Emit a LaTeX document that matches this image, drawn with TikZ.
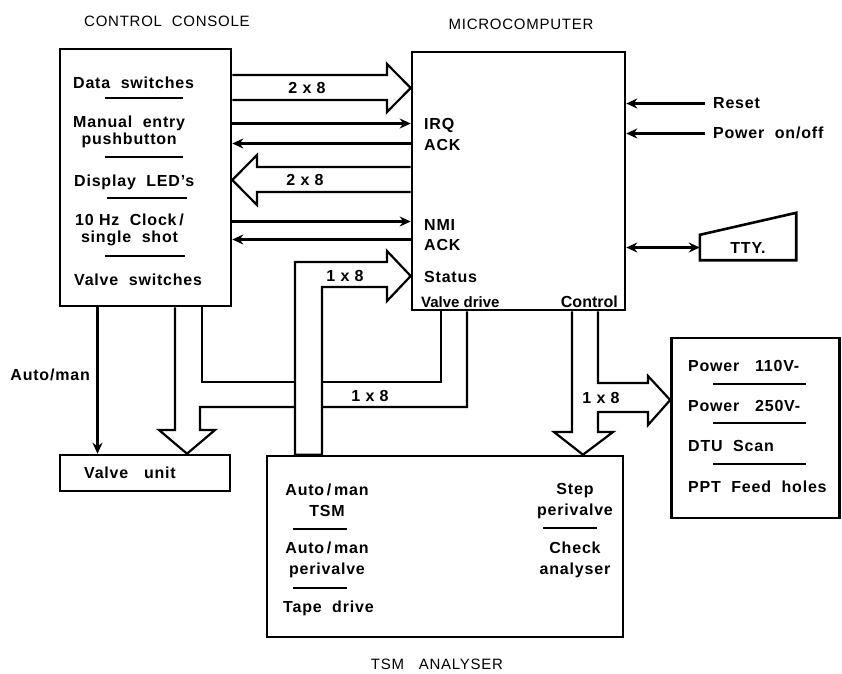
\documentclass[tikz,border=0pt]{standalone}
\usepackage{fontspec}
\setmainfont{Liberation Sans}[LetterSpace=5]
\newfontfamily\tightfont{Liberation Sans}
\usetikzlibrary{arrows.meta, positioning, calc}

\begin{document}
\begin{tikzpicture}[
  x=1pt, y=-1pt,
  font=\fontsize{16}{17}\selectfont\bfseries,
  box/.style={rectangle, draw=black, line width=2.6pt, inner sep=0pt},
  txt/.style={inner sep=0pt, align=center},
  item/.style={txt, anchor=west},
  title/.style={inner sep=0pt, font=\fontsize{15}{16}\selectfont},
  sep/.style={line width=2pt},
  wire/.style={line width=2.5pt},
  arr/.style={wire, -{Stealth[length=11pt, width=10pt]}},
  darr/.style={wire, {Stealth[length=11pt, width=10pt]}-{Stealth[length=11pt, width=10pt]}},
  bus/.style={line width=2.2pt, line join=miter},
]
\useasboundingbox (0,0) rectangle (842,673);
% blocks
\node (console) [box, minimum width=171pt, minimum height=257pt] at (145.5,177.5) {};
\node (micro)   [box, minimum width=213pt, minimum height=258pt] at (518.5,181) {};
\node (valve)   [box, minimum width=170pt, minimum height=36pt] at (145,473) {};
\node (tsm)     [box, minimum width=356pt, minimum height=181pt] at (445,546.5) {};
\node (power)   [box, minimum width=168pt, minimum height=180pt] at (755.5,428) {};
\node (tty)     [txt, minimum width=96pt, minimum height=25pt] at (748,247.5) {TTY.};
\draw [box] (tty.south west) -- (tty.south east) -- ([yshift=22pt]tty.north east)
      -- (tty.north west) -- cycle;
\node (vunit) [txt] at (130,473) {Valve\ \ \ unit};
% titles
\node (ccTitle)  [title] at (167,21) {CONTROL\ \ CONSOLE};
\node (mcTitle)  [title] at (521,24) {MICROCOMPUTER};
\node (tsmTitle) [title] at (437,664) {TSM\ \ \ ANALYSER};
% control console contents
\node (dsw) [item] at (73,83)  {Data\ \ switches};
\node (man) [item] at (73,132) {Manual\ \ entry\\pushbutton};
\node (led) [item] at (74,182) {Display\ \ LED's};
\node (clk) [item] at (75,230) {10 Hz\ \ Clock\,/\\single\ \ shot};
\node (vsw) [item] at (74,280) {Valve\ \ switches};
\draw [sep] (105,98) -- (183,98);
\draw [sep] (105,157) -- (183,157);
\draw [sep] (107,198) -- (187,198);
\draw [sep] (105,256) -- (185,256);
% microcomputer labels
\node (irq)    [item] at (424,125) {IRQ};
\node (ack1)   [item] at (424,145) {ACK};
\node (nmi)    [item] at (424,225) {NMI};
\node (ack2)   [item] at (424,245) {ACK};
\node (status) [item] at (424,277) {Status};
\node (vdrive) [item, font=\tightfont\fontsize{15}{16}\selectfont\bfseries] at (421,302) {Valve drive};
\node (ctrl)   [txt, anchor=east, font=\tightfont\fontsize{16}{16}\selectfont\bfseries] at (618,302) {Control};
\node (reset)  [item] at (713,103) {Reset};
\node (pwr)    [item] at (713,133) {Power\ \ on/off};
% power contents
\node (p110) [item] at (688,366) {Power\ \ \ 110V-};
\node (p250) [item] at (688,406) {Power\ \ \ 250V-};
\node (dtu)  [item] at (688,446) {DTU\ \ Scan};
\node (ppt)  [item] at (688,487) {PPT\ \ Feed\ \ holes};
\draw [sep] (713,384) -- (806,384);
\draw [sep] (713,423) -- (806,423);
\draw [sep] (713,464) -- (806,464);
% TSM analyser contents
\node (amTsm)  [txt] at (327,500) {Auto\,/\,man\\[4pt]TSM};
\node (amPeri) [txt] at (327,560) {Auto\,/\,man\\[4pt]perivalve};
\node (tape)   [item] at (283,608) {Tape\ \ drive};
\node (stepP)  [txt] at (575,501) {Step\\[4pt]perivalve};
\node (check)  [txt] at (575,560) {Check\\[4pt]analyser};
\draw [sep] (293,529) -- (347,529);
\draw [sep] (293,588) -- (347,588);
\draw [sep] (543,528) -- (597,528);
% buses between console and microcomputer
\draw [bus] (console.east |- 0,75) -- (387,75) -- (387,64) -- (micro.west |- 0,88)
      -- (387,112) -- (387,100) -- (console.east |- 0,100);
\node (bDsw) [txt] at (307,88) {2 x 8};
\draw [bus] (micro.west |- 0,167) -- (257,167) -- (257,155) -- (console.east |- 0,180)
      -- (257,205) -- (257,192) -- (micro.west |- 0,192);
\node (bLed) [txt] at (305,180) {2 x 8};
\draw [arr] (console.east |- 0,123.5) -- (micro.west |- 0,123.5);
\draw [arr] (micro.west |- 0,143.5) -- (console.east |- 0,143.5);
\draw [arr] (console.east |- 0,221.5) -- (micro.west |- 0,221.5);
\draw [arr] (micro.west |- 0,239.5) -- (console.east |- 0,239.5);
% valve drive bus to the valve unit
\draw [bus] (micro.south -| 441,0) -- (441,382) -- (202,382) -- (console.south -| 202,0);
\draw [bus] (console.south -| 175,0) -- (175,430) -- (159,430) -- (valve.north -| 187,0)
      -- (215,430) -- (200,430) -- (200,407) -- (467,407) -- (micro.south -| 467,0);
\node (bValve) [txt] at (370,396) {1 x 8};
\draw [arr] (console.south -| 97.5,0) -- (valve.north -| 97.5,0);
\node (automan) [txt, anchor=east] at (90,375) {Auto/man};
% status bus (drawn over the valve drive bus)
\filldraw [bus, fill=white] (tsm.north -| 295,0) -- (295,262) -- (387,262) -- (387,251)
      -- (micro.west |- 0,276) -- (387,301) -- (387,287) -- (322,287)
      -- (tsm.north -| 322,0) -- cycle;
\node (bStatus) [txt] at (345,276) {1 x 8};
% control bus
\draw [bus] (micro.south -| 572,0) -- (572,432) -- (554,432) -- (tsm.north -| 583,0)
      -- (613,432) -- (598,432) -- (598,412) -- (648,412) -- (648,425)
      -- (power.west |- 0,400) -- (648,376) -- (648,383) -- (598,383)
      -- (micro.south -| 598,0);
\node (bCtrl) [txt] at (601,398) {1 x 8};
% right side
\draw [arr] ([xshift=-8pt,yshift=-0.5pt]reset.west) -- ([yshift=-0.5pt]micro.east |- reset.west);
\draw [arr] ([xshift=-8pt,yshift=-0.5pt]pwr.west) -- ([yshift=-0.5pt]micro.east |- pwr.west);
\draw [darr] (micro.east |- tty) -- (tty.west);
\end{tikzpicture}
\end{document}
